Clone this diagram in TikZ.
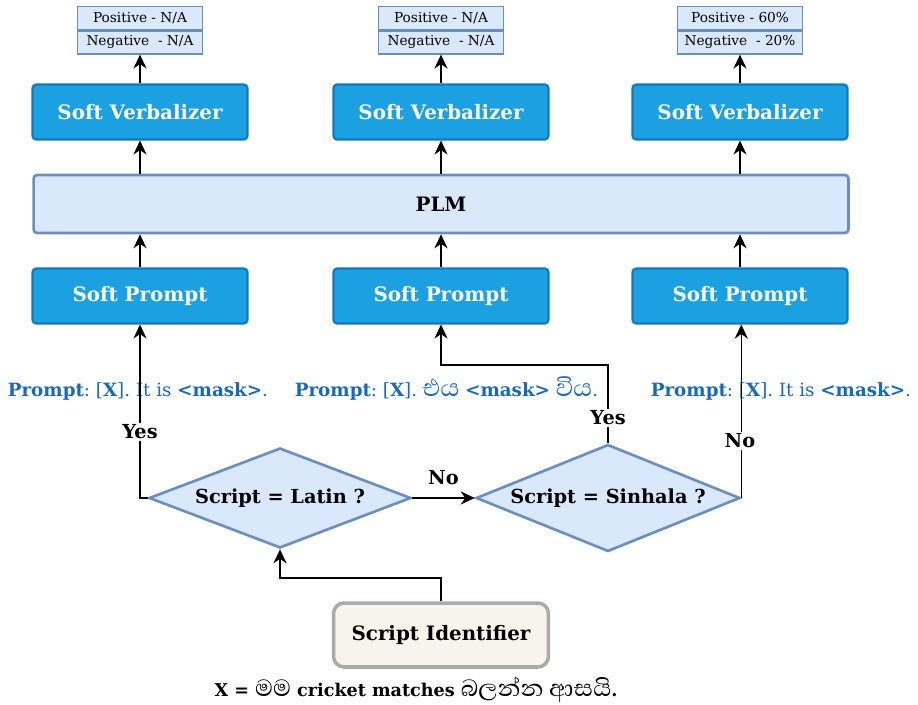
\documentclass[tikz,border=0pt]{standalone}
\usepackage{fontspec}
\setmainfont{DejaVu Serif}
\newfontfamily\sinhalafont[Script=Sinhala,Scale=1.7]{Abhaya Libre}
\usetikzlibrary{shapes.geometric,arrows.meta,positioning}
\definecolor{softfill}{HTML}{1BA1E2}
\definecolor{softline}{HTML}{0F7AC0}
\definecolor{lightfill}{HTML}{DAE8FC}
\definecolor{lightline}{HTML}{6C8EBF}
\definecolor{promptblue}{HTML}{1A68BE}
\definecolor{idfill}{HTML}{F7F4EC}
\definecolor{idline}{HTML}{AAAAAA}
\newcommand{\boxfont}{\fontsize{11.3}{13}\selectfont\bfseries}
\begin{document}
\begin{tikzpicture}[x=0.02cm,y=-0.02cm,
  softbox/.style={draw=softline,fill=softfill,line width=1.2pt,rounded corners=2pt,
    minimum width=4.3cm,minimum height=1.1cm,text=white,font=\boxfont},
  scorebox/.style={draw=lightline,fill=lightfill,line width=0.8pt,
    minimum width=2.5cm,minimum height=0.46cm,inner sep=0pt,font=\fontsize{7.8}{9}\selectfont},
  decision/.style={diamond,aspect=2.6,draw=lightline,fill=lightfill,line width=1.5pt,inner sep=0pt,
    font=\fontsize{11}{13}\selectfont\bfseries},
  prompttext/.style={text=promptblue,font=\fontsize{10.4}{12}\selectfont,inner sep=2pt,anchor=base west},
  answer/.style={fill=white,font=\fontsize{11}{13}\selectfont\bfseries,inner sep=1pt},
  arr/.style={line width=0.9pt,-{Stealth[length=8pt,width=7.5pt]}}]
\useasboundingbox (0,0) rectangle (918,705);
% score boxes on top
\node[scorebox] (pos1) at (140,18) {Positive - N/A};
\node[scorebox,anchor=north] (neg1) at (pos1.south) {Negative\ \ - N/A};
\node[scorebox] (pos2) at (441,18) {Positive - N/A};
\node[scorebox,anchor=north] (neg2) at (pos2.south) {Negative\ \ - N/A};
\node[scorebox] (pos3) at (740,18) {Positive - 60\%};
\node[scorebox,anchor=north] (neg3) at (pos3.south) {Negative\ \ - 20\%};
% verbalizers, PLM, prompts
\node[softbox] (sv1) at (140,112) {Soft Verbalizer};
\node[softbox] (sv2) at (441,112) {Soft Verbalizer};
\node[softbox] (sv3) at (740,112) {Soft Verbalizer};
\node[draw=lightline,fill=lightfill,line width=1.5pt,rounded corners=2pt,
  minimum width=16.3cm,minimum height=1.16cm,font=\boxfont] (plm) at (441,204) {PLM};
\node[softbox] (sp1) at (140,296) {Soft Prompt};
\node[softbox] (sp2) at (441,296) {Soft Prompt};
\node[softbox] (sp3) at (740,296) {Soft Prompt};
% prompt templates
\node[prompttext] (pr1) at (4,396) {\textbf{Prompt}:\  [\textbf{X}]. It is \textbf{<mask>}.};
\node[prompttext] (pr2) at (291,396) {\textbf{Prompt}:\  [\textbf{X}]. {\sinhalafont එය} \textbf{<mask>} {\sinhalafont විය}.};
\node[prompttext] (pr3) at (647,396) {\textbf{Prompt}:\  [\textbf{X}]. It is \textbf{<mask>}.};
% decisions
\node[decision,minimum width=5.24cm,minimum height=2cm] (latin) at (280,498) {Script = Latin ?};
\node[decision,minimum width=5.28cm,minimum height=2.14cm] (sinhala) at (608,498) {Script = Sinhala ?};
\node[draw=idline,fill=idfill,line width=2pt,rounded corners=6pt,minimum width=4.3cm,
  minimum height=1.28cm,font=\boxfont] (sid) at (441,635) {Script Identifier};
\node[font=\fontsize{10}{12}\selectfont\bfseries,anchor=base,inner sep=4pt] (xdef) at (416,696) {X = {\sinhalafont\mdseries මම} cricket matches {\sinhalafont\mdseries බලන්න ආසයි}.};
% connectors
\draw[arr] (sv1.north) -- (neg1.south);
\draw[arr] (sv2.north) -- (neg2.south);
\draw[arr] (sv3.north) -- (neg3.south);
\draw[arr] (plm.north -| sv1) -- (sv1.south);
\draw[arr] (plm.north -| sv2) -- (sv2.south);
\draw[arr] (plm.north -| sv3) -- (sv3.south);
\draw[arr] (sp1.north) -- (plm.south -| sp1);
\draw[arr] (sp2.north) -- (plm.south -| sp2);
\draw[arr] (sp3.north) -- (plm.south -| sp3);
\draw[arr] (latin.west) -| (sp1.south);
\node[answer] (yes1) at (140,432) {Yes};
\draw[arr] (latin.east) -- node[above=4pt,font=\fontsize{11}{13}\selectfont\bfseries] (no1) {No} (sinhala.west);
\coordinate (turn2) at (608,365);
\draw[arr] (sinhala.north) -- (turn2) -| (sp2.south);
\node[answer] (yes2) at (608,418) {Yes};
\draw[arr] (sinhala.east) -- (sinhala.east |- sp3.south);
\node[answer] (no2) at (740,441) {No};
\coordinate (turn1) at (441,578);
\draw[arr] (sid.north) -- (turn1) -| (latin.south);
\end{tikzpicture}
\end{document}
